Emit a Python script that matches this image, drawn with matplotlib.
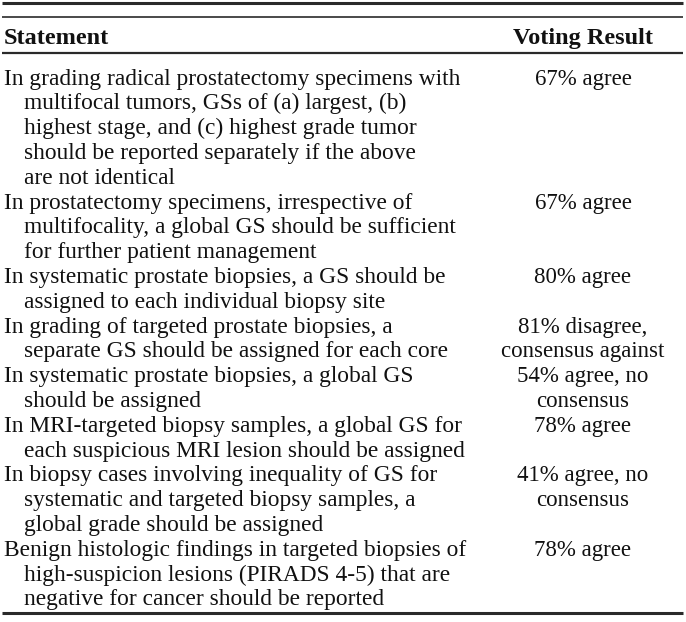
import matplotlib
matplotlib.use("Agg")
import matplotlib.pyplot as plt

header = ["Statement", "Voting Result"]

statements = [
    ["In grading radical prostatectomy specimens with",
     "multifocal tumors, GSs of (a) largest, (b)",
     "highest stage, and (c) highest grade tumor",
     "should be reported separately if the above",
     "are not identical"],
    ["In prostatectomy specimens, irrespective of",
     "multifocality, a global GS should be sufficient",
     "for further patient management"],
    ["In systematic prostate biopsies, a GS should be",
     "assigned to each individual biopsy site"],
    ["In grading of targeted prostate biopsies, a",
     "separate GS should be assigned for each core"],
    ["In systematic prostate biopsies, a global GS",
     "should be assigned"],
    ["In MRI-targeted biopsy samples, a global GS for",
     "each suspicious MRI lesion should be assigned"],
    ["In biopsy cases involving inequality of GS for",
     "systematic and targeted biopsy samples, a",
     "global grade should be assigned"],
    ["Benign histologic findings in targeted biopsies of",
     "high-suspicion lesions (PIRADS 4-5) that are",
     "negative for cancer should be reported"],
]

results = [
    ["67% agree"],
    ["67% agree"],
    ["80% agree"],
    ["81% disagree,", "consensus against"],
    ["54% agree, no", "consensus"],
    ["78% agree"],
    ["41% agree, no", "consensus"],
    ["78% agree"],
]

W, H = 686, 622
fig = plt.figure(figsize=(W / 100, H / 100), dpi=100)
ax = fig.add_axes([0, 0, 1, 1])
ax.set_xlim(0, W)
ax.set_ylim(H, 0)
ax.axis("off")

font = "Liberation Serif"
fs = 16.8
fs_res = 16.5
fs_head = 17.5
col = "#111111"
x0, x_indent, x_res = 4, 24, 583
first_base, pitch = 84.5, 24.8

# rules
ax.hlines(2.5, 2, 683, color="#2a2a2a", lw=2.2)
ax.hlines(17, 2, 683, color="#2a2a2a", lw=1.2)
ax.hlines(53, 2, 683, color="#2a2a2a", lw=1.6)
ax.hlines(613, 2, 683, color="#2a2a2a", lw=2.2)

ax.text(x0, 44, header[0], fontfamily=font, fontsize=fs_head, fontweight="bold",
        color=col, va="baseline", ha="left")
ax.text(x_res, 44, header[1], fontfamily=font, fontsize=fs_head, fontweight="bold",
        color=col, va="baseline", ha="center")

line = 0
for stmt, res in zip(statements, results):
    for k, s in enumerate(stmt):
        ax.text(x0 if k == 0 else x_indent, first_base + (line + k) * pitch, s,
                fontfamily=font, fontsize=fs, color=col, va="baseline", ha="left")
    for k, r in enumerate(res):
        ax.text(x_res, first_base + (line + k) * pitch, r,
                fontfamily=font, fontsize=fs_res, color=col, va="baseline", ha="center")
    line += len(stmt)

fig.savefig("out.png", dpi=100, facecolor="white")
